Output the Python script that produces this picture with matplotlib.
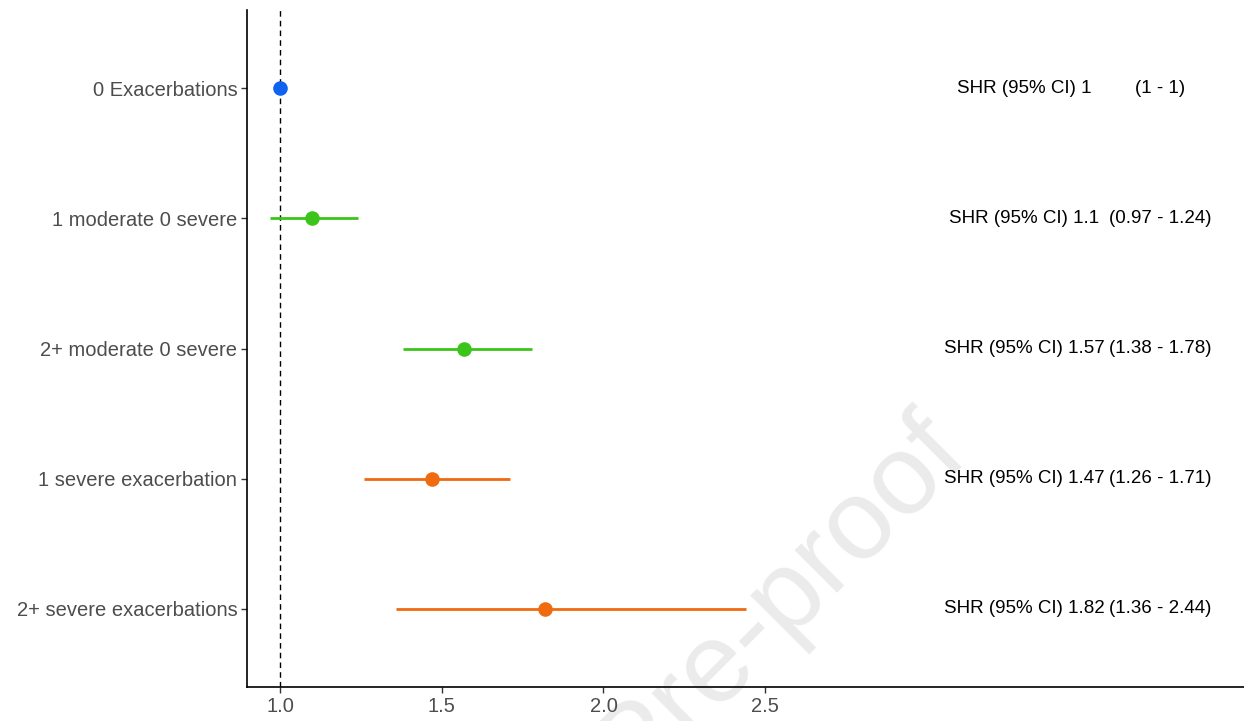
import matplotlib
matplotlib.use("Agg")
import matplotlib.pyplot as plt

plt.rcParams['font.family'] = ['Liberation Sans', 'DejaVu Sans']

categories = ["0 Exacerbations", "1 moderate 0 severe", "2+ moderate 0 severe",
              "1 severe exacerbation", "2+ severe exacerbations"]
shr = [1.0, 1.1, 1.57, 1.47, 1.82]
ci_low = [1.0, 0.97, 1.38, 1.26, 1.36]
ci_high = [1.0, 1.24, 1.78, 1.71, 2.44]
shr_labels = ["SHR (95% CI) 1", "SHR (95% CI) 1.1", "SHR (95% CI) 1.57",
              "SHR (95% CI) 1.47", "SHR (95% CI) 1.82"]
ci_labels = ["(1 - 1)", "(0.97 - 1.24)", "(1.38 - 1.78)", "(1.26 - 1.71)", "(1.36 - 2.44)"]
colors = ["#1062F0", "#3DC41A", "#3DC41A", "#F06A10", "#F06A10"]
xticks = [1.0, 1.5, 2.0, 2.5]
ref_value = 1.0
shr_label_x = 3.30
ci_label_x = 3.72

fig = plt.figure(figsize=(12.44, 7.21), dpi=100)
ax = fig.add_axes([247/1244, 1 - 687/721, 1 - 247/1244, (687 - 10)/721])
ax.patch.set_alpha(0)

# faint watermark behind the plot
fig.text(0.514, -0.040, "Journal Pre-proof", fontsize=82, color="#EBEBEB",
         rotation=45, ha="center", va="center", zorder=-1)

n = len(categories)
ypos = [n - i for i in range(n)]

ax.axvline(ref_value, color="black", linestyle=(0, (4, 3)), linewidth=1.0, zorder=1)
for y, m, lo, hi, c, l1, l2 in zip(ypos, shr, ci_low, ci_high, colors, shr_labels, ci_labels):
    ax.plot([lo, hi], [y, y], color=c, linewidth=2.0, solid_capstyle="butt", zorder=2)
    ax.plot([m], [y], marker="o", markersize=10.5, color=c, markeredgewidth=0, zorder=3)
    ax.text(shr_label_x, y, l1, ha="center", va="center", fontsize=13.5, color="black")
    ax.text(ci_label_x, y, l2, ha="center", va="center", fontsize=13.5, color="black")

ax.set_xlim(0.898, 3.98)
ax.set_ylim(0.4, n + 0.6)
ax.set_yticks(ypos)
ax.set_yticklabels(categories)
ax.set_xticks(xticks)
ax.set_xticklabels([f"{t:.1f}" for t in xticks])

for s in ["top", "right"]:
    ax.spines[s].set_visible(False)
for s in ["left", "bottom"]:
    ax.spines[s].set_linewidth(1.2)
    ax.spines[s].set_color("black")
ax.tick_params(axis="both", colors="#333333", length=4, width=1.0,
               labelsize=14.5, labelcolor="#4D4D4D", pad=3)

fig.savefig("out.png", dpi=100)
